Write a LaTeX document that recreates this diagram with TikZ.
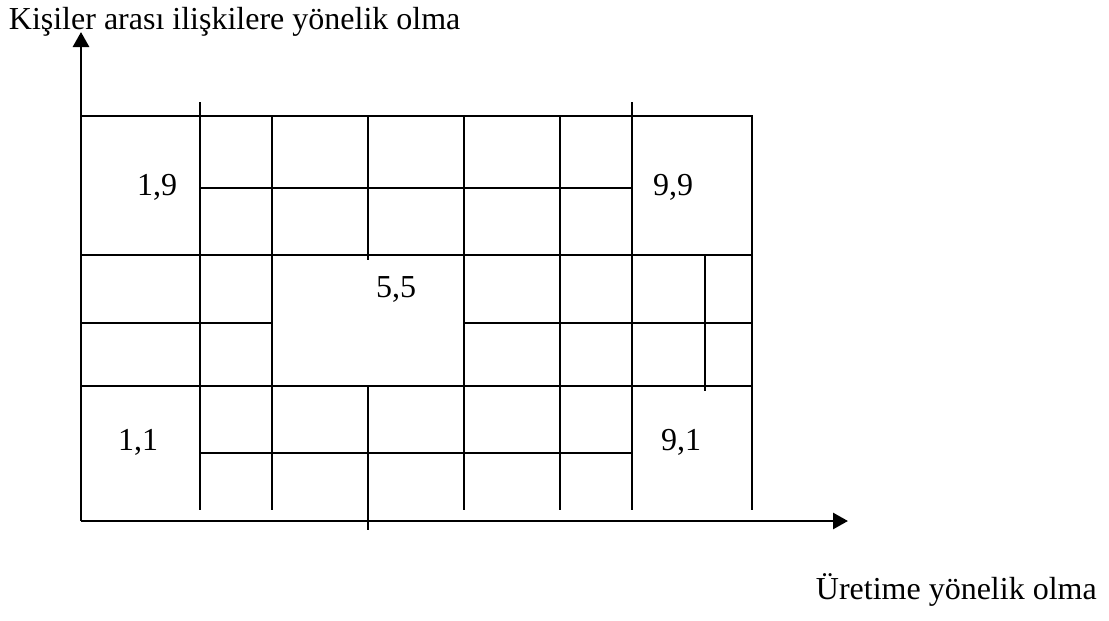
\documentclass[tikz,border=0pt]{standalone}
\usepackage{fontspec}
\setmainfont{Liberation Serif}
\usetikzlibrary{arrows.meta}
\begin{document}
\begin{tikzpicture}[x=0.5pt, y=-0.5pt, >={Triangle[length=7.5pt, width=8pt]}, line width=0.9pt,
    every node/.style={font=\fontsize{16}{19}\selectfont, inner sep=0pt}]
  \useasboundingbox (0,0) rectangle (1109,621);
  % eksenler
  \draw[->, line width=1.4pt] (81,521) -- (81,32);
  \draw[->, line width=1.4pt] (81,521) -- (848,521);

  % dis cerceve
  \draw (81,116) -- (752,116) -- (752,510);

  % yatay cizgiler
  \draw (200,188) -- (632,188);
  \draw (81,255) -- (752,255);
  \draw (81,323) -- (272,323) (464,323) -- (752,323);
  \draw (81,386) -- (752,386);
  \draw (200,453) -- (632,453);

  % dikey cizgiler
  \draw (200,102) -- (200,510);
  \draw (632,102) -- (632,510);
  \foreach \x in {272,464,560} \draw (\x,116) -- (\x,510);
  \draw (368,116) -- (368,260);
  \draw (368,386) -- (368,530);
  \draw (705,255) -- (705,391);

  % degerler
  \node[anchor=base] (k19) at (157,195) {1,9};
  \node[anchor=base] (k99) at (673,195) {9,9};
  \node[anchor=base] (k55) at (396,297) {5,5};
  \node[anchor=base] (k11) at (138,450) {1,1};
  \node[anchor=base] (k91) at (681,450) {9,1};

  % eksen adlari
  \node[anchor=base west] (ykisi) at (8,29) {Kişiler arası ilişkilere yönelik olma};
  \node[anchor=base west] (xuret) at (815,599) {Üretime yönelik olma};
\end{tikzpicture}
\end{document}
